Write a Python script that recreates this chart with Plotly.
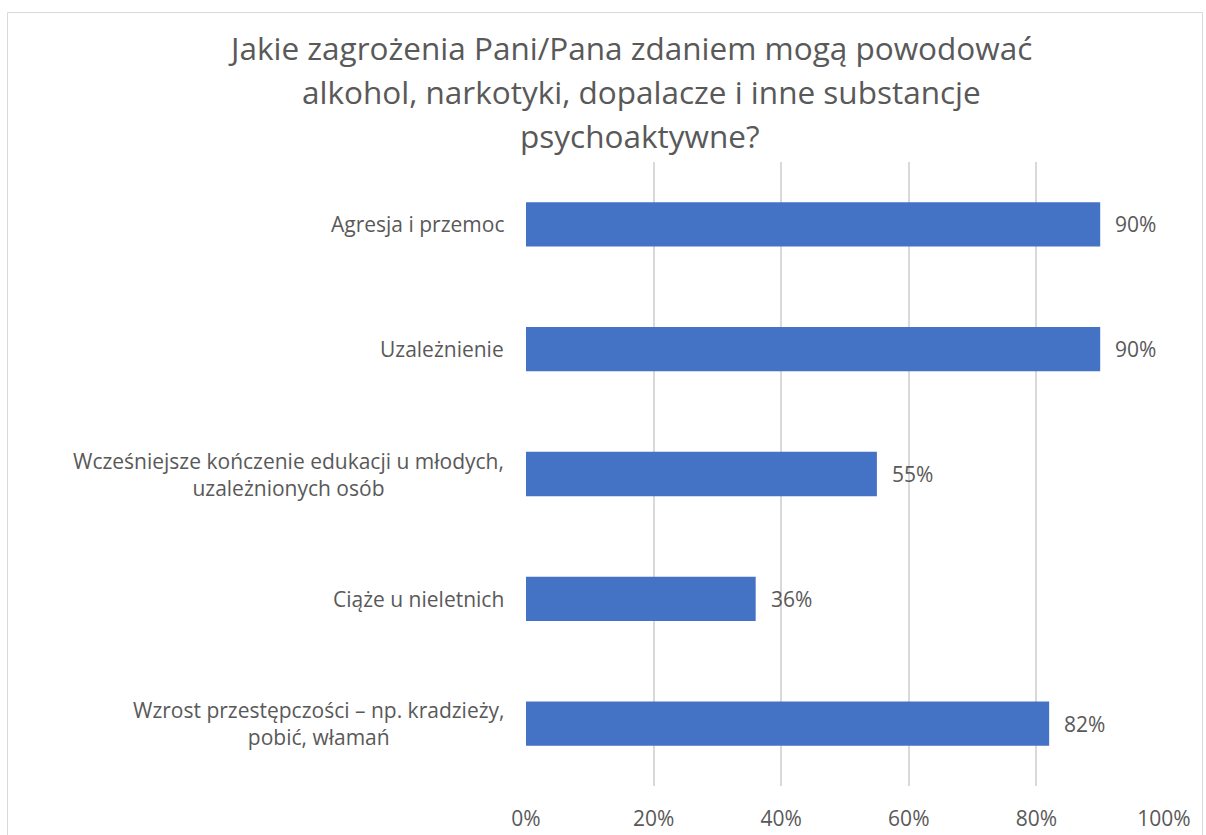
import plotly.graph_objects as go

categories = [
    "Agresja i przemoc",
    "Uzależnienie",
    "Wcześniejsze kończenie edukacji u młodych,<br>uzależnionych osób",
    "Ciąże u nieletnich",
    "Wzrost przestępczości – np. kradzieży,<br>pobić, włamań",
]
values = [0.90, 0.90, 0.55, 0.36, 0.82]
value_labels = ["90%", "90%", "55%", "36%", "82%"]
title_lines = [
    "Jakie zagrożenia Pani/Pana zdaniem mogą powodować",
    "alkohol, narkotyki, dopalacze i inne substancje",
    "psychoaktywne?",
]
x_ticks = [0, 0.2, 0.4, 0.6, 0.8, 1.0]
x_tick_labels = ["0%", "20%", "40%", "60%", "80%", "100%"]

W, H = 1206, 835
L, R, T, B = 526, 42, 162, 49
PW, PH = W - L - R, H - T - B

def px_x(px):
    return (px - L) / PW

def px_y(py):
    return (H - B - py) / PH

FONT = "Open Sans"
GREY = "#595959"

fig = go.Figure()
fig.add_trace(go.Bar(
    y=list(range(len(categories))),
    x=values,
    orientation="h",
    marker=dict(color="#4472C4", line=dict(width=0)),
    hoverinfo="skip",
))

annotations = []
for i, (c, v, lab) in enumerate(zip(categories, values, value_labels)):
    annotations.append(dict(
        x=px_x(506), xref="paper", y=i, yref="y",
        text=c, showarrow=False, xanchor="right", yanchor="middle",
        align="center", font=dict(family=FONT, size=21, color=GREY),
    ))
    annotations.append(dict(
        x=v, xref="x", y=i, yref="y",
        text=lab, showarrow=False, xanchor="left", yanchor="middle",
        xshift=13, font=dict(family=FONT, size=21, color=GREY),
    ))

for px_c, py, line in zip([630, 641, 640], [47, 92, 136], title_lines):
    annotations.append(dict(
        x=px_x(px_c), xref="paper", y=px_y(py), yref="paper",
        text=line, showarrow=False, xanchor="center", yanchor="middle",
        font=dict(family=FONT, size=31.5, color=GREY),
    ))

fig.update_layout(
    width=W, height=H, autosize=False,
    margin=dict(l=L, r=R, t=T, b=B, pad=0),
    paper_bgcolor="white", plot_bgcolor="white",
    showlegend=False,
    bargap=0.645,
    annotations=annotations,
    shapes=[dict(
        type="rect", xref="paper", yref="paper",
        x0=px_x(7.5), x1=px_x(1202.5), y0=px_y(900), y1=px_y(12.5),
        line=dict(color="#D9D9D9", width=1), fillcolor="rgba(0,0,0,0)", layer="below",
    )],
    xaxis=dict(
        range=[0, 1], tickvals=x_ticks, ticktext=x_tick_labels,
        showgrid=True, gridcolor="#D9D9D9", gridwidth=1.5,
        zeroline=False, showline=False, automargin=False,
        ticks="", ticklabelstandoff=18,
        tickfont=dict(family=FONT, size=21, color=GREY),
        fixedrange=True,
    ),
    yaxis=dict(
        range=[len(categories) - 0.5, -0.5], automargin=False,
        showticklabels=False, showgrid=False, zeroline=False,
        showline=False, ticks="", fixedrange=True,
    ),
)

fig.write_html(
    "out.html",
    config={"displayModeBar": False, "responsive": False},
    post_script="document.body.style.margin='0';document.body.style.overflow='hidden';",
)
